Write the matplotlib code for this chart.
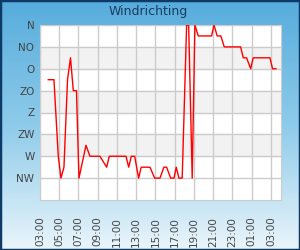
import numpy as np
import matplotlib
matplotlib.use('Agg')
import matplotlib.pyplot as plt
from matplotlib.colors import LinearSegmentedColormap

# uren sinds 03:00 en windrichting in graden (0 = N)
uren = [0.86, 1.45, 1.90, 2.18, 2.49, 2.86, 3.17, 3.46, 3.79, 4.05,
        4.78, 5.19, 6.23, 6.93, 7.20, 8.94, 9.22, 9.49, 9.84, 10.25,
        10.52, 11.43, 11.92, 12.47, 12.88, 13.16, 13.58, 13.93, 14.16, 14.44,
        14.78, 15.24, 15.45, 15.82, 16.10, 16.45, 17.84, 18.08, 18.42, 18.80,
        19.15, 20.85, 21.13, 21.47, 21.90, 22.16, 23.90, 24.17, 24.52]
richting = [112.5, 112.5, 270, 315, 292.5, 112.5, 67.5, 135, 135, 315,
            247.5, 270, 270, 292.5, 270, 270, 292.5, 270, 270, 315,
            292.5, 292.5, 315, 315, 292.5, 292.5, 315, 315, 292.5, 315,
            315, 0, 0, 315, 0, 22.5, 22.5, 0, 22.5, 22.5,
            45, 45, 67.5, 67.5, 90, 67.5, 67.5, 90, 90]

windlabels = ['N', 'NO', 'O', 'ZO', 'Z', 'ZW', 'W', 'NW']
tijdlabels = ['03:00', '05:00', '07:00', '09:00', '11:00', '13:00', '15:00',
              '17:00', '19:00', '21:00', '23:00', '01:00', '03:00']

fig = plt.figure(figsize=(3, 2.5), dpi=100)

# achtergrond met verloop
bg = fig.add_axes([0, 0, 1, 1], zorder=-10)
cmap = LinearSegmentedColormap.from_list('bg', ['#56acdc', '#8ecbea', '#eaf5fb'])
bg.imshow(np.linspace(0, 1, 256).reshape(-1, 1), aspect='auto', cmap=cmap,
          extent=[0, 1, 0, 1])
bg.set_xlim(0, 1)
bg.set_ylim(0, 1)
bg.axis('off')
fig.patches.append(plt.Rectangle((0, 0), 1, 1, transform=fig.transFigure,
                                 fill=False, edgecolor='#0d3a66', linewidth=2.5))

fig.text(0.495, 0.952, 'Windrichting', ha='center', va='center',
         fontsize=9, color='#1b3c5e')

ax = fig.add_axes([40/300, 50/250, 241/300, 175/250])
ax.set_facecolor('white')
for lo in [45, 135, 225]:
    ax.axhspan(lo, lo + 45, color='#f2f2f2', zorder=0)

ax.plot(uren, richting, color='#ff0000', linewidth=1, zorder=3)

ax.set_ylim(360, 0)
ax.set_xlim(0, 25.05)
ax.set_yticks(np.arange(0, 360, 45))
ax.set_yticklabels(windlabels)
ax.set_xticks(np.arange(0, 25, 2))
ax.set_xticklabels(tijdlabels, rotation=90)
ax.tick_params(axis='y', length=0, pad=4, labelsize=7.5, labelcolor='#444444')
ax.tick_params(axis='x', length=0, pad=12, labelsize=7.5, labelcolor='#444444')
ax.grid(True, color='#cccccc', linewidth=1, zorder=1)
ax.set_axisbelow(True)
for s in ax.spines.values():
    s.set_color('#cccccc')

fig.savefig('out.png', dpi=100)
